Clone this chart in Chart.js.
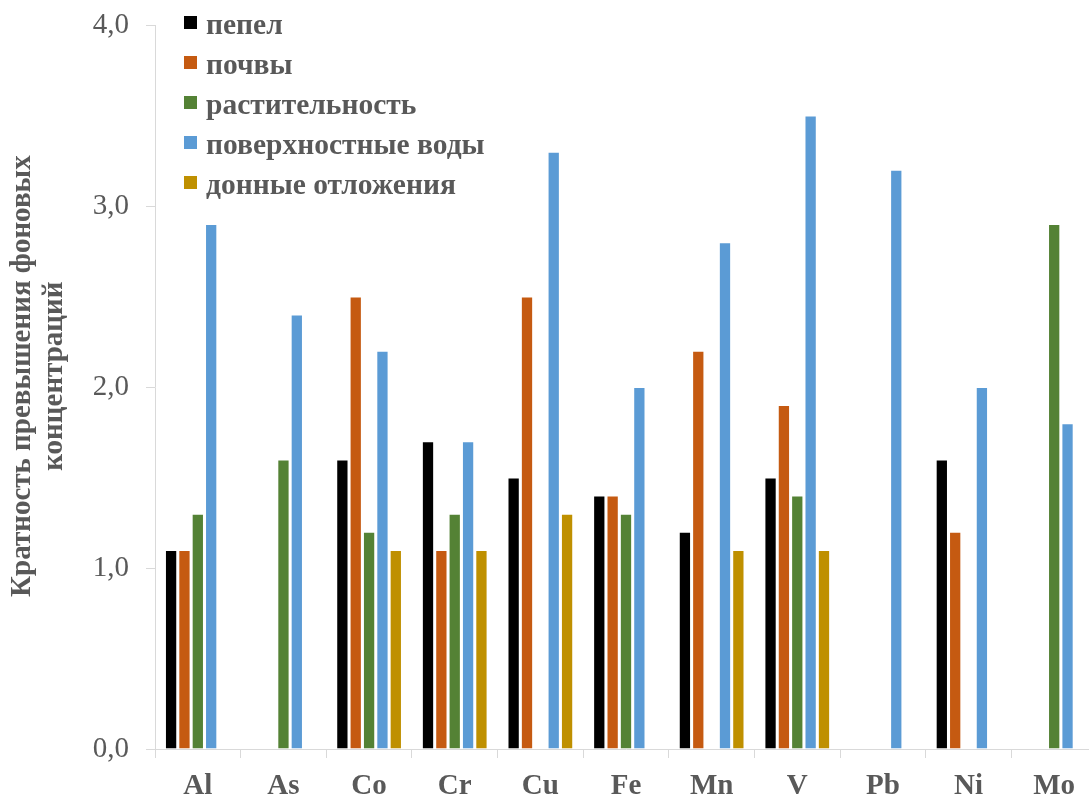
<!DOCTYPE html>
<html lang="ru">
<head>
<meta charset="utf-8">
<title>Кратность превышения фоновых концентраций</title>
<script src="https://cdn.jsdelivr.net/npm/chart.js@4.4.1/dist/chart.umd.min.js"></script>
<style>
    html, body { margin: 0; padding: 0; background: #fff; overflow: hidden; }
    #wrap { position: relative; width: 1100px; height: 796px; }
</style>
</head>
<body>
<div id="wrap"><canvas id="chart"></canvas></div>
<script>
// Chart data
const elements = ['Al', 'As', 'Co', 'Cr', 'Cu', 'Fe', 'Mn', 'V', 'Pb', 'Ni', 'Mo'];
const ash = [1.1, null, 1.6, 1.7, 1.5, 1.4, 1.2, 1.5, null, 1.6, null];
const soils = [1.1, null, 2.5, 1.1, 2.5, 1.4, 2.2, 1.9, null, 1.2, null];
const vegetation = [1.3, 1.6, 1.2, 1.3, null, 1.3, null, 1.4, null, null, 2.9];
const surfaceWater = [2.9, 2.4, 2.2, 1.7, 3.3, 2.0, 2.8, 3.5, 3.2, 2.0, 1.8];
const sediments = [null, null, 1.1, 1.1, 1.3, null, 1.1, 1.1, null, null, null];
const yTicks = [0, 1, 2, 3, 4];

const FONT = '"Liberation Serif", "Times New Roman", serif';
const GREY = '#595959';
const AXIS = '#d9d9d9';

// Legend drawn inside the plot, top-left
const insideLegend = {
    id: 'insideLegend',
    afterDraw(chart) {
        const ctx = chart.ctx;
        ctx.save();
        ctx.font = 'bold 29.5px ' + FONT;
        ctx.textBaseline = 'alphabetic';
        chart.data.datasets.forEach((ds, i) => {
            const y = 16 + i * 40;
            ctx.fillStyle = ds.backgroundColor;
            ctx.fillRect(184, y, 13, 13);
            ctx.fillStyle = GREY;
            ctx.fillText(ds.label, 206, y + 17.5);
        });
        ctx.restore();
    }
};

function makeSet(label, data, color) {
    return {
        label: label,
        data: data,
        backgroundColor: color,
        borderColor: '#ffffff',
        borderWidth: 1,
        categoryPercentage: 0.78,
        barPercentage: 0.92
    };
}

new Chart(document.getElementById('chart'), {
    type: 'bar',
    data: {
        labels: elements,
        datasets: [
            makeSet('пепел', ash, '#000000'),
            makeSet('почвы', soils, '#C55A11'),
            makeSet('растительность', vegetation, '#548235'),
            makeSet('поверхностные воды', surfaceWater, '#5B9BD5'),
            makeSet('донные отложения', sediments, '#BF9000')
        ]
    },
    options: {
        responsive: true,
        maintainAspectRatio: false,
        animation: false,
        layout: { padding: { top: 25, right: 3, left: 0, bottom: 0 } },
        plugins: {
            legend: { display: false },
            tooltip: { enabled: false }
        },
        scales: {
            x: {
                afterFit: (scale) => { scale.height = 47; },
                grid: {
                    drawOnChartArea: false,
                    drawTicks: true,
                    tickLength: 9,
                    color: AXIS
                },
                border: { display: true, color: AXIS },
                ticks: {
                    color: GREY,
                    padding: 11,
                    font: { family: FONT, size: 29, weight: 'bold' }
                }
            },
            y: {
                min: 0,
                max: 4,
                afterFit: (scale) => {
                    scale.width = 155;
                    scale.paddingTop = 0;
                    scale.paddingBottom = 0;
                },
                afterBuildTicks: (scale) => { scale.ticks = yTicks.map(v => ({ value: v })); },
                grid: {
                    drawOnChartArea: false,
                    drawTicks: true,
                    tickLength: 9,
                    color: AXIS
                },
                border: { display: true, color: AXIS },
                ticks: {
                    color: GREY,
                    padding: 17,
                    font: { family: FONT, size: 29 },
                    callback: (v) => Number(v).toFixed(1).replace('.', ',')
                },
                title: {
                    display: true,
                    text: ['   Кратность превышения фоновых', '   концентраций'],
                    color: GREY,
                    padding: { top: 7, bottom: 0 },
                    font: { family: FONT, size: 29, weight: 'bold', lineHeight: 1.1 }
                }
            }
        }
    },
    plugins: [insideLegend]
});
</script>
</body>
</html>
